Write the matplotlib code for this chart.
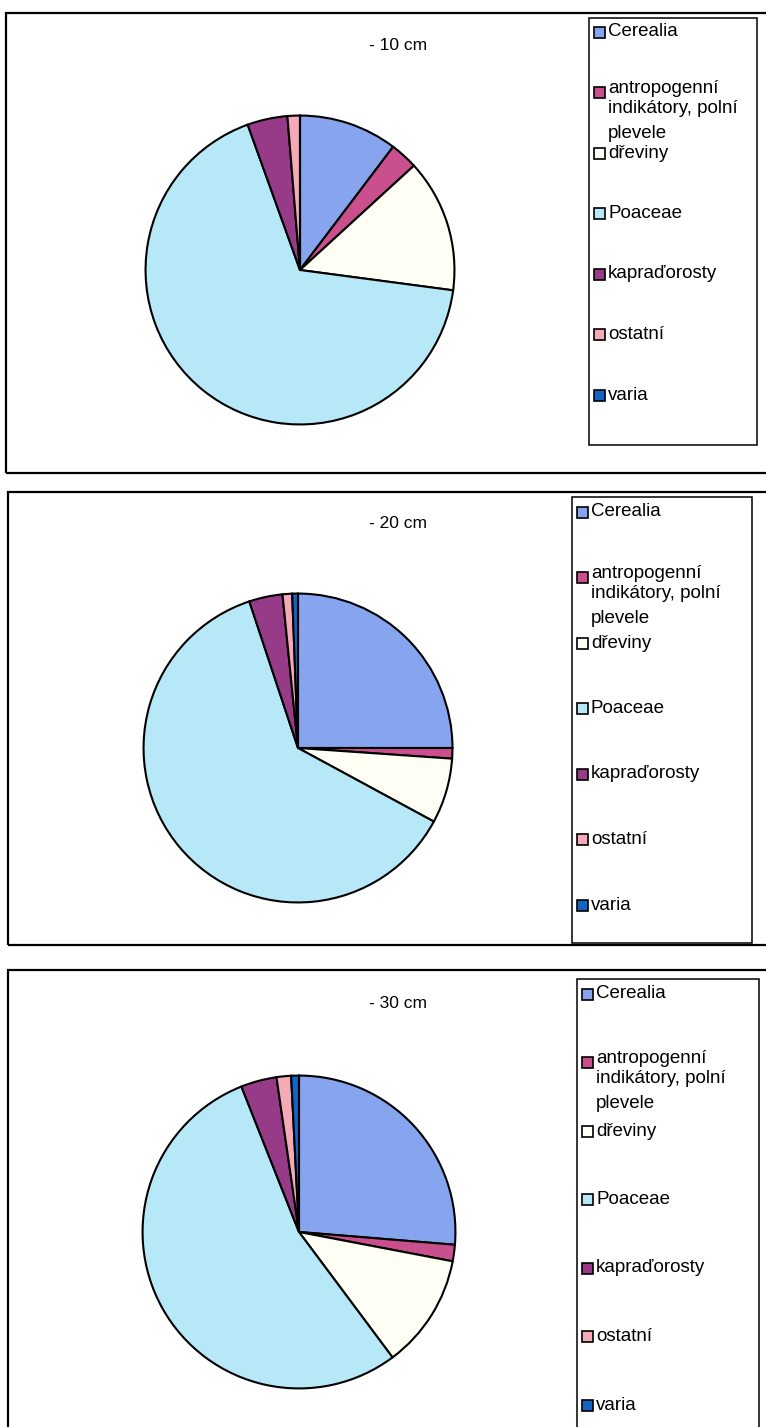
import matplotlib.pyplot as plt
from matplotlib.patches import Rectangle

plt.rcParams['font.family'] = ['Liberation Sans', 'DejaVu Sans']

W, H = 766, 1427

# pollen groups and their shares (%) in each depth sample
categories = ["Cerealia", "antropogenní\nindikátory, polní\nplevele", "dřeviny",
              "Poaceae", "kapraďorosty", "ostatní", "varia"]
colors = ["#86a5ee", "#c9508c", "#fffff6", "#b6e8f8", "#973a87", "#f6aab8", "#1464c6"]
depths = ["- 10 cm", "- 20 cm", "- 30 cm"]
share_10 = [10.3, 2.9, 13.9, 67.4, 4.2, 1.3, 0.0]
share_20 = [25.0, 1.1, 6.8, 62.0, 3.5, 1.0, 0.6]
share_30 = [26.3, 1.7, 11.8, 54.2, 3.7, 1.5, 0.8]
shares = [share_10, share_20, share_30]

# layout of the three chart frames, in pixels from the top-left corner
frames = [(6, 13, 780, 473), (8, 492, 780, 945), (8, 970, 780, 1440)]
legend_boxes = [(589, 18, 757, 445), (572, 497, 752, 943), (577, 979, 759, 1440)]
legend_first = [32, 512, 994]
legend_step = [60.5, 65.5, 68.5]
centers = [(300, 270), (298, 748), (299, 1232)]
radii = [156, 156, 158]
title_y = [45, 523, 1003]
# vertical offsets of the wrapped label lines (the last one runs into the next entry)
wrap_offsets = [-4, 16, 41]

fig = plt.figure(figsize=(W / 100, H / 100), dpi=100)


def fx(x):
    return x / W


def fy(y):
    return 1 - y / H


def box(x0, y0, x1, y1, lw=1.5):
    fig.add_artist(Rectangle((fx(x0), fy(y1)), fx(x1) - fx(x0), fy(y0) - fy(y1),
                             transform=fig.transFigure, fill=False,
                             edgecolor='black', linewidth=lw, clip_on=False))


for k in range(3):
    box(*frames[k], lw=1.6)
    box(*legend_boxes[k], lw=1.1)

    cx, cy = centers[k]
    r = radii[k]
    ax = fig.add_axes([fx(cx - r), fy(cy + r), 2 * r / W, 2 * r / H])
    ax.pie(shares[k], colors=colors, startangle=90, counterclock=False,
           wedgeprops=dict(edgecolor='black', linewidth=1.5))
    ax.set_xlim(-1.01, 1.01)
    ax.set_ylim(-1.01, 1.01)
    ax.set_aspect('auto')
    ax.axis('off')

    fig.text(fx(398), fy(title_y[k]), depths[k], ha='center', va='center', fontsize=12.5)

    lx = legend_boxes[k][0]
    for i, (name, col) in enumerate(zip(categories, colors)):
        y = legend_first[k] + i * legend_step[k]
        fig.add_artist(Rectangle((fx(lx + 5), fy(y + 5.5)), 11 / W, 11 / H,
                                 transform=fig.transFigure, facecolor=col,
                                 edgecolor='black', linewidth=1.2))
        lines = name.split('\n')
        for j, line in enumerate(lines):
            ly = y if len(lines) == 1 else y + wrap_offsets[j]
            fig.text(fx(lx + 19), fy(ly), line, ha='left', va='center', fontsize=13.5)

fig.savefig('out.png', dpi=100)
